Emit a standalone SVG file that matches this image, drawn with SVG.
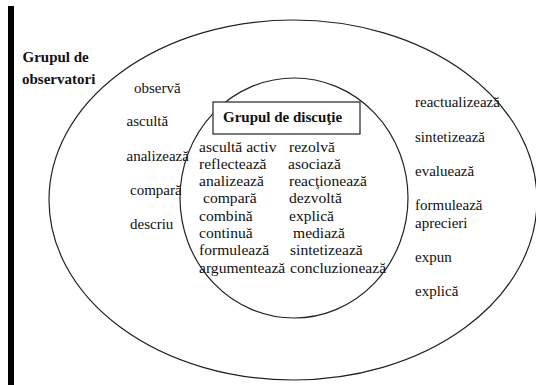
<svg xmlns="http://www.w3.org/2000/svg" width="536" height="385" viewBox="0 0 536 385">
<style>
text{font-family:'Liberation Serif','Times New Roman','DejaVu Serif',serif;font-size:15px;fill:#111}
.b{font-weight:bold}
.in{font-size:15.6px}
.ell{fill:none;stroke:#222;stroke-width:1.2}
</style>
<rect x="0" y="0" width="536" height="385" fill="#fff"/>
<rect x="8" y="6" width="6" height="379" fill="#000"/>
<g id="connectors"></g>
<g id="observers">
<ellipse class="ell" cx="293" cy="200" rx="244" ry="180"/>
<text class="b" x="22.5" y="62">Grupul de</text>
<text class="b" x="22" y="83.5">observatori</text>
<text x="134" y="92.5">observă</text>
<text x="126.5" y="125.5">ascultă</text>
<text x="126.5" y="161">analizează</text>
<text x="130" y="194.5">compară</text>
<text x="130" y="228.5">descriu</text>
<text x="415" y="106.5">reactualizează</text>
<text x="415" y="141.5">sintetizează</text>
<text x="415" y="175.5">evaluează</text>
<text x="415" y="210">formulează</text>
<text x="415" y="227.5">aprecieri</text>
<text x="415" y="261.5">expun</text>
<text x="415" y="295.5">explică</text>
</g>
<g id="discussion">
<ellipse class="ell" cx="294" cy="198" rx="114" ry="120"/>
<rect x="213" y="102" width="147" height="32" fill="#fff" stroke="#333" stroke-width="1.3"/>
<text class="b" x="223" y="122">Grupul de discuţie</text>
<g class="in">
<text class="in" x="199" y="151.5">ascultă activ</text>
<text class="in" x="199" y="168.8">reflectează</text>
<text class="in" x="199" y="186.1">analizează</text>
<text class="in" x="203" y="203.4">compară</text>
<text class="in" x="199" y="220.7">combină</text>
<text class="in" x="199" y="238">continuă</text>
<text class="in" x="199" y="255.3">formulează</text>
<text class="in" x="199" y="272.6">argumentează</text>
<text class="in" x="289" y="151.5">rezolvă</text>
<text class="in" x="288" y="168.8">asociază</text>
<text class="in" x="289" y="186.1">reacţionează</text>
<text class="in" x="289" y="203.4">dezvoltă</text>
<text class="in" x="289" y="220.7">explică</text>
<text class="in" x="293" y="238">mediază</text>
<text class="in" x="290" y="255.3">sintetizează</text>
<text class="in" x="290" y="272.6">concluzionează</text>
</g>
</g>
</svg>
